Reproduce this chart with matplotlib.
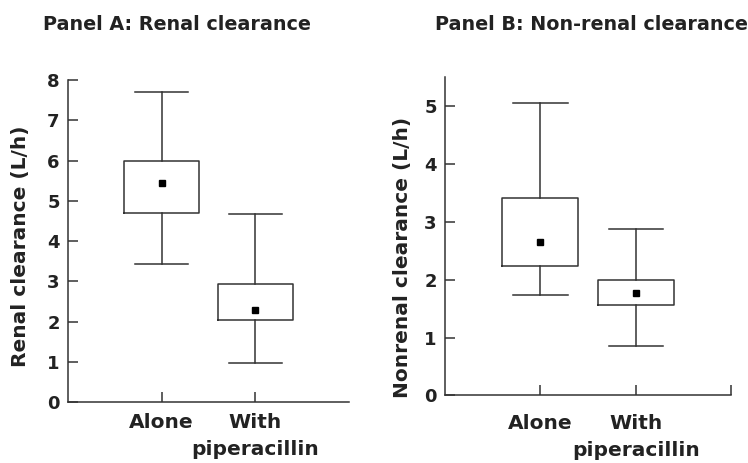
import matplotlib.pyplot as plt

plt.rcParams['font.family'] = ['DejaVu Sans']
plt.rcParams['font.weight'] = 'bold'

groups = ['Alone', 'With\npiperacillin']

# Panel A: renal clearance (L/h)
renal_whislo = [3.44, 0.98]
renal_q1 = [4.69, 2.04]
renal_mean = [5.43, 2.28]
renal_q3 = [6.00, 2.94]
renal_whishi = [7.70, 4.68]

# Panel B: non-renal clearance (L/h)
nonrenal_whislo = [1.74, 0.86]
nonrenal_q1 = [2.23, 1.57]
nonrenal_mean = [2.66, 1.77]
nonrenal_q3 = [3.41, 1.99]
nonrenal_whishi = [5.05, 2.87]

line_col = '#333333'
txt_col = '#222222'


def make_stats(lo, q1, mean, q3, hi):
    stats = []
    for i in range(len(lo)):
        stats.append(dict(whislo=lo[i], q1=q1[i], med=mean[i], q3=q3[i],
                          whishi=hi[i], mean=mean[i], fliers=[]))
    return stats


def draw_panel(ax, stats, ylim, yticks, ylabel, end_tick, xpad, label_xy):
    ax.bxp(stats, positions=[1, 2], widths=0.8, showmeans=True,
           showfliers=False,
           boxprops=dict(color=line_col, linewidth=1.1),
           whiskerprops=dict(color=line_col, linewidth=1.1),
           capprops=dict(color=line_col, linewidth=1.1),
           capwidths=0.57,
           medianprops=dict(linewidth=0),
           meanprops=dict(marker='s', markerfacecolor='black',
                          markeredgecolor='black', markersize=5))
    ax.set_xlim(0, 3)
    ax.set_ylim(*ylim)
    ax.set_yticks(yticks)
    ax.set_yticklabels([str(t) for t in yticks], fontsize=13, color=txt_col,
                       fontweight='bold')
    labels = groups + [''] if end_tick else groups
    ax.set_xticks(list(range(1, len(labels) + 1)))
    ax.set_xticklabels(labels, fontsize=14.5, color=txt_col, fontweight='bold',
                       linespacing=1.55)
    ax.tick_params(axis='y', direction='in', length=7, width=1.1, color=line_col, pad=6)
    ax.tick_params(axis='x', direction='in', length=7, width=1.1, color=line_col, pad=xpad)
    ax.spines['top'].set_visible(False)
    ax.spines['right'].set_visible(False)
    for s in ['left', 'bottom']:
        ax.spines[s].set_color(line_col)
        ax.spines[s].set_linewidth(1.1)
    ax.set_ylabel(ylabel, fontsize=14.5, color=txt_col, fontweight='bold')
    ax.yaxis.set_label_coords(*label_xy)


fig = plt.figure(figsize=(7.48, 4.63), dpi=100)
ax1 = fig.add_axes([0.0909, 0.1317, 0.3757, 0.6955])
ax2 = fig.add_axes([0.5949, 0.1458, 0.3824, 0.6875])

draw_panel(ax1, make_stats(renal_whislo, renal_q1, renal_mean, renal_q3, renal_whishi),
           (0, 8), list(range(0, 9)), 'Renal clearance (L/h)', False, 8,
           (-0.135, 0.483))
draw_panel(ax2, make_stats(nonrenal_whislo, nonrenal_q1, nonrenal_mean, nonrenal_q3, nonrenal_whishi),
           (0, 5.5), list(range(0, 6)), 'Nonrenal clearance (L/h)', True, 13,
           (-0.115, 0.435))

fig.text(177 / 748, 1 - 24 / 463, 'Panel A: Renal clearance', fontsize=13.8,
         color=txt_col, fontweight='bold', ha='center', va='center')
fig.text(591 / 748, 1 - 24 / 463, 'Panel B: Non-renal clearance', fontsize=13.8,
         color=txt_col, fontweight='bold', ha='center', va='center')

fig.savefig('out.png', dpi=100)
